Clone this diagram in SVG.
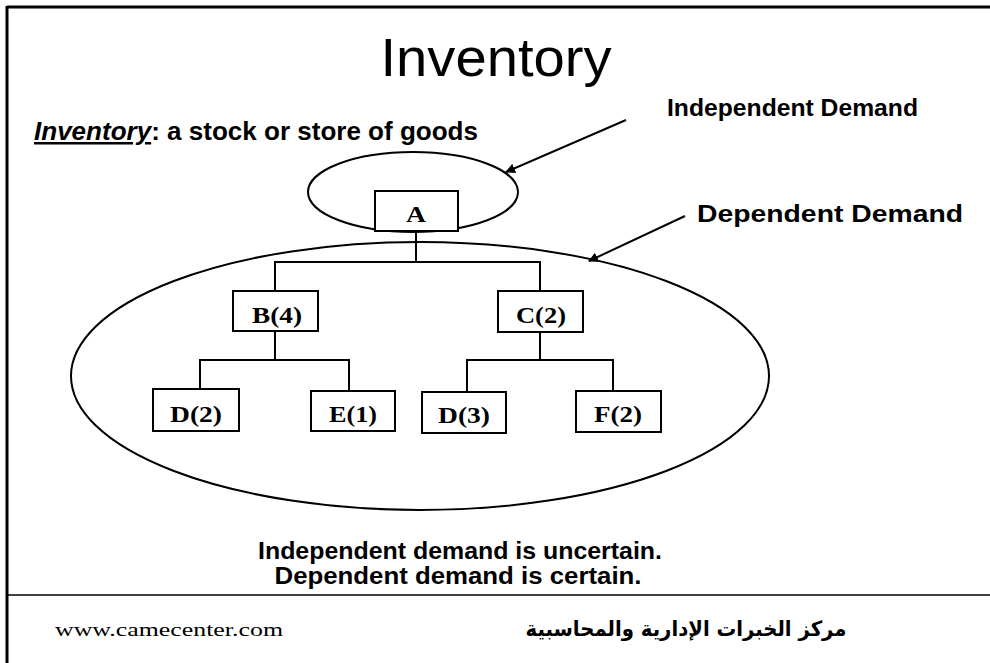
<svg xmlns="http://www.w3.org/2000/svg" width="990" height="663" viewBox="0 0 990 663">
  <defs>
    <style>
      .frame { stroke: #000; fill: none; }
      .box { fill: #fff; stroke: #000; stroke-width: 2; }
      .lbl { font-family: "Liberation Serif", "Times New Roman", serif; font-weight: bold; font-size: 23px; text-anchor: middle; fill: #000; }
      .link { stroke: #000; stroke-width: 2; fill: none; }
      .oval { stroke: #000; stroke-width: 2; fill: none; }
      .sans { font-family: "Liberation Sans", Arial, sans-serif; fill: #000; }
      .bold { font-weight: bold; }
    </style>
    <marker id="head" viewBox="0 0 10 10" refX="9" refY="5" markerWidth="5" markerHeight="5" orient="auto" markerUnits="strokeWidth">
      <path d="M0,0 L10,5 L0,10 z" fill="#000"/>
    </marker>
  </defs>
  <rect width="990" height="663" fill="#fff"/>

  <!-- slide frame -->
  <g id="frame">
    <line class="frame" x1="7" y1="7" x2="990" y2="7" stroke-width="3"/>
    <line class="frame" x1="7" y1="6" x2="7" y2="663" stroke-width="3"/>
    <line class="frame" x1="7" y1="595" x2="990" y2="595" stroke-width="1.5"/>
  </g>

  <!-- headings -->
  <g id="title">
    <text class="sans" x="496" y="76" font-size="54" text-anchor="middle" textLength="231" lengthAdjust="spacingAndGlyphs">Inventory</text>
  </g>
  <g id="definition">
    <text class="sans bold" x="34" y="140" font-size="25" textLength="444" lengthAdjust="spacingAndGlyphs"><tspan font-style="italic" text-decoration="underline">Inventory</tspan>: a stock or store of goods</text>
  </g>

  <!-- demand groupings -->
  <g id="independent-region">
    <ellipse class="oval" cx="413" cy="192" rx="105" ry="40"/>
  </g>
  <g id="dependent-region">
    <ellipse class="oval" cx="420" cy="376" rx="349" ry="134"/>
  </g>

  <!-- tree connectors -->
  <g id="connectors">
    <polyline class="link" points="416,231 416,262"/>
    <polyline class="link" points="275,291 275,262 540,262 540,291"/>
    <polyline class="link" points="275,331 275,360"/>
    <polyline class="link" points="200,389 200,360 349,360 349,391"/>
    <polyline class="link" points="540,332 540,360"/>
    <polyline class="link" points="467,392 467,360 613,360 613,391"/>
    <line class="link" x1="626" y1="120" x2="506" y2="172" marker-end="url(#head)"/>
    <line class="link" x1="685" y1="216" x2="589" y2="261" marker-end="url(#head)"/>
  </g>

  <!-- items -->
  <g id="node-A">
    <rect class="box" x="375" y="191" width="83" height="40"/>
    <text class="lbl" x="416" y="222" textLength="20" lengthAdjust="spacingAndGlyphs">A</text>
  </g>
  <g id="node-B">
    <rect class="box" x="233" y="291" width="85" height="40"/>
    <text class="lbl" x="277" y="323" textLength="50" lengthAdjust="spacingAndGlyphs">B(4)</text>
  </g>
  <g id="node-C">
    <rect class="box" x="498" y="291" width="85" height="41"/>
    <text class="lbl" x="541" y="323" textLength="50" lengthAdjust="spacingAndGlyphs">C(2)</text>
  </g>
  <g id="node-D2">
    <rect class="box" x="153" y="389" width="86" height="42"/>
    <text class="lbl" x="196" y="422" textLength="52" lengthAdjust="spacingAndGlyphs">D(2)</text>
  </g>
  <g id="node-E1">
    <rect class="box" x="311" y="391" width="84" height="40"/>
    <text class="lbl" x="353" y="422" textLength="48" lengthAdjust="spacingAndGlyphs">E(1)</text>
  </g>
  <g id="node-D3">
    <rect class="box" x="422" y="392" width="84" height="41"/>
    <text class="lbl" x="464" y="423" textLength="52" lengthAdjust="spacingAndGlyphs">D(3)</text>
  </g>
  <g id="node-F2">
    <rect class="box" x="576" y="391" width="85" height="41"/>
    <text class="lbl" x="618" y="422" textLength="48" lengthAdjust="spacingAndGlyphs">F(2)</text>
  </g>

  <!-- callout labels -->
  <g id="label-independent">
    <text class="sans bold" x="667" y="116" font-size="23" textLength="251" lengthAdjust="spacingAndGlyphs">Independent Demand</text>
  </g>
  <g id="label-dependent">
    <text class="sans bold" x="697" y="222" font-size="23" textLength="266" lengthAdjust="spacingAndGlyphs">Dependent Demand</text>
  </g>

  <!-- summary -->
  <g id="summary">
    <text class="sans bold" x="460" y="559" font-size="23" text-anchor="middle" textLength="404" lengthAdjust="spacingAndGlyphs">Independent demand is uncertain.</text>
    <text class="sans bold" x="458" y="584" font-size="23" text-anchor="middle" textLength="367" lengthAdjust="spacingAndGlyphs">Dependent demand is certain.</text>
  </g>

  <!-- footer -->
  <g id="footer">
    <text x="55" y="636" font-family="Liberation Serif, 'Times New Roman', serif" font-size="18" textLength="228" lengthAdjust="spacingAndGlyphs">www.camecenter.com</text>
    <text x="686" y="636" font-family="'DejaVu Sans', 'Noto Sans', sans-serif" font-weight="bold" font-size="21" text-anchor="middle" direction="rtl" textLength="321" lengthAdjust="spacingAndGlyphs">مركز الخبرات الإدارية والمحاسبية</text>
  </g>
</svg>
